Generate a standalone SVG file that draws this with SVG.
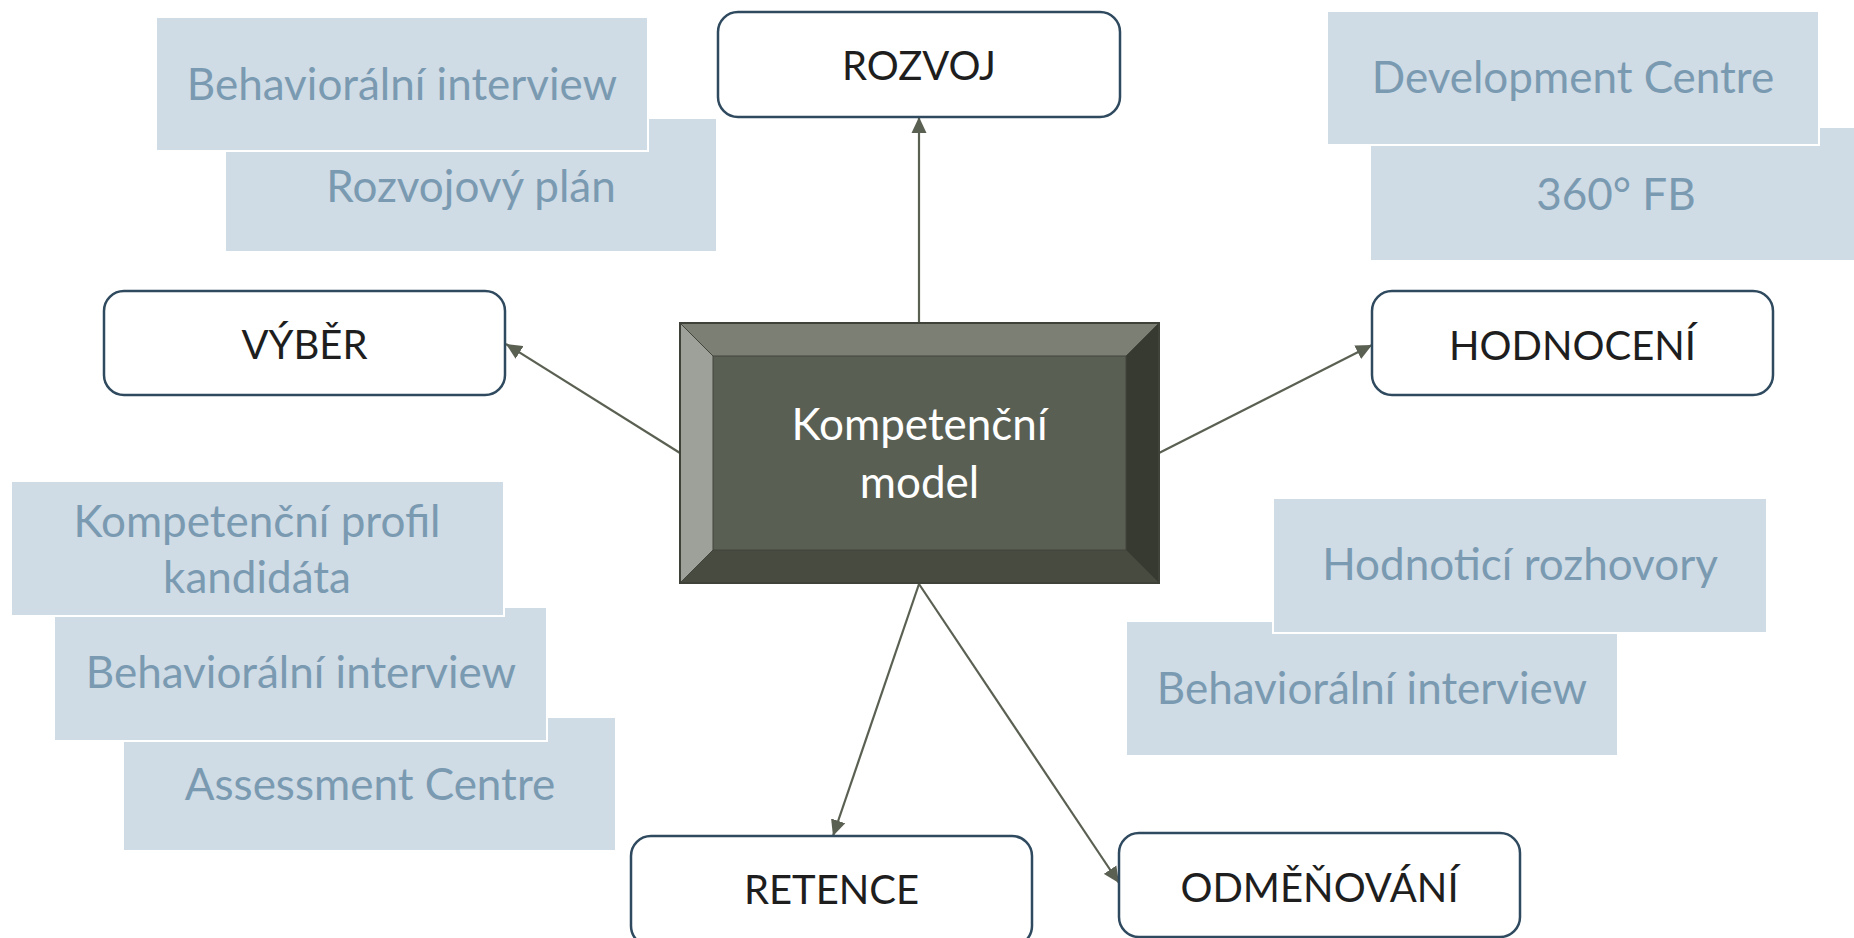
<svg xmlns="http://www.w3.org/2000/svg" width="1854" height="938" viewBox="0 0 1854 938">
<defs>
<style>
.tag{fill:#CFDBE5;stroke:#FFFFFF;stroke-width:2}
.tagt{font-family:Lato,"Open Sans","Liberation Sans",sans-serif;font-size:44px;fill:#7A9AB1;text-anchor:middle}
.node{fill:#FFFFFF;stroke:#2F4A5F;stroke-width:2.5}
.nodet{font-family:Lato,"Open Sans","Liberation Sans",sans-serif;font-size:40px;fill:#1E1E1E;text-anchor:middle}
.conn{stroke:#5A6052;stroke-width:2.2;fill:none;marker-end:url(#arr)}
.bevel{stroke:#41453B;stroke-width:1}
</style>
<marker id="arr" markerUnits="userSpaceOnUse" markerWidth="16" markerHeight="16" viewBox="0 0 16 16" refX="16" refY="8" orient="auto">
<path d="M0,0.5 L16,8 L0,15.5 Z" fill="#5A6052"/>
</marker>
</defs>
<rect width="1854" height="938" fill="#FFFFFF"/>

<g id="tags-rozvoj">
<rect class="tag" x="225" y="118" width="492" height="134"/>
<text class="tagt" x="471" y="202">Rozvojový plán</text>
<rect class="tag" x="156" y="17" width="492" height="134"/>
<text class="tagt" x="402" y="100">Behaviorální interview</text>
</g>
<g id="tags-hodnoceni-top">
<rect class="tag" x="1370" y="127" width="492" height="134"/>
<text class="tagt" x="1616" y="210">360° FB</text>
<rect class="tag" x="1327" y="11" width="492" height="134"/>
<text class="tagt" x="1573" y="93">Development Centre</text>
</g>
<g id="tags-vyber">
<rect class="tag" x="123" y="717" width="493" height="134"/>
<text class="tagt" x="370" y="800">Assessment Centre</text>
<rect class="tag" x="54" y="607" width="493" height="134"/>
<text class="tagt" x="301" y="688">Behaviorální interview</text>
<rect class="tag" x="11" y="481" width="493" height="135"/>
<text class="tagt" x="257" y="537">Kompetenční profil</text>
<text class="tagt" x="257" y="593">kandidáta</text>
</g>
<g id="tags-hodnoceni-bottom">
<rect class="tag" x="1126" y="621" width="492" height="135"/>
<text class="tagt" x="1372" y="704">Behaviorální interview</text>
<rect class="tag" x="1273" y="498" width="494" height="135"/>
<text class="tagt" x="1520" y="580">Hodnoticí rozhovory</text>
</g>

<g id="connectors">
<line class="conn" x1="919" y1="323" x2="919" y2="117"/>
<line class="conn" x1="680" y1="453" x2="506" y2="344"/>
<line class="conn" x1="1159" y1="453" x2="1372" y2="345"/>
<line class="conn" x1="919" y1="584" x2="833" y2="836"/>
<line class="conn" x1="919" y1="584" x2="1119" y2="883"/>
</g>

<g id="center">
<rect x="713" y="356" width="413" height="194" fill="#5A5F54"/>
<polygon class="bevel" points="680,323 1159,323 1126,356 713,356" fill="#7B7F74"/>
<polygon class="bevel" points="680,323 713,356 713,550 680,583" fill="#9EA199"/>
<polygon class="bevel" points="1159,323 1159,583 1126,550 1126,356" fill="#363A31"/>
<polygon class="bevel" points="680,583 1159,583 1126,550 713,550" fill="#474B40"/>
<rect x="680" y="323" width="479" height="260" fill="none" stroke="#3E4238" stroke-width="2"/>
<text x="919.5" y="440" font-family="Lato,'Open Sans','Liberation Sans',sans-serif" font-size="44" fill="#FFFFFF" text-anchor="middle">Kompetenční</text>
<text x="919.5" y="498" font-family="Lato,'Open Sans','Liberation Sans',sans-serif" font-size="44" fill="#FFFFFF" text-anchor="middle">model</text>
</g>

<g id="rozvoj">
<rect class="node" x="718" y="12" width="402" height="105" rx="20"/>
<text class="nodet" x="919" y="80">ROZVOJ</text>
</g>
<g id="vyber">
<rect class="node" x="104" y="291" width="401" height="104" rx="20"/>
<text class="nodet" x="304.5" y="359">VÝBĚR</text>
</g>
<g id="hodnoceni">
<rect class="node" x="1372" y="291" width="401" height="104" rx="20"/>
<text class="nodet" x="1572.5" y="360">HODNOCENÍ</text>
</g>
<g id="retence">
<rect class="node" x="631" y="836" width="401" height="110" rx="20"/>
<text class="nodet" x="831.5" y="904">RETENCE</text>
</g>
<g id="odmenovani">
<rect class="node" x="1119" y="833" width="401" height="104" rx="20"/>
<text class="nodet" x="1319.5" y="902">ODMĚŇOVÁNÍ</text>
</g>
</svg>
